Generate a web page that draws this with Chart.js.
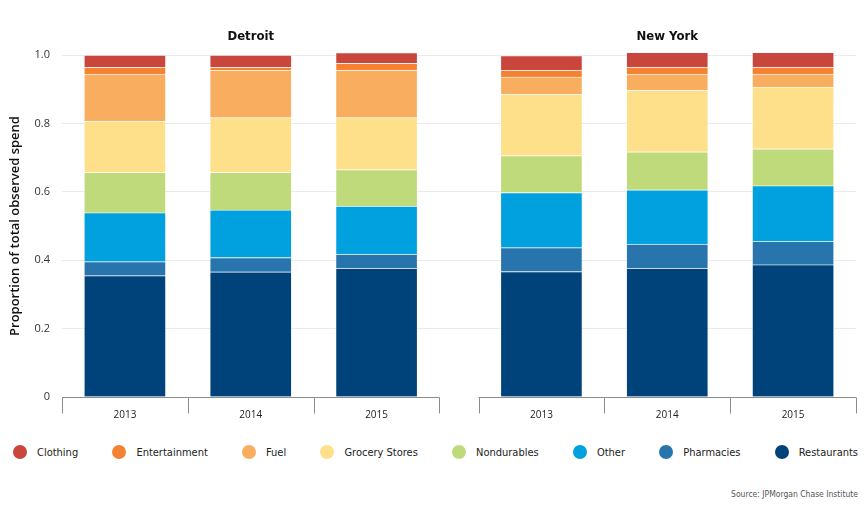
<!DOCTYPE html>
<html>
<head>
<meta charset="utf-8">
<script src="https://cdn.jsdelivr.net/npm/chart.js@4"></script>
<style>
  body { margin: 0; background: #fff; }
  #wrap { position: relative; width: 867px; height: 510px; }
  #chartBox { position: absolute; left: 0; top: 0; width: 867px; height: 425px; }
  #legend {
    position: absolute; left: 13px; right: 9px; top: 445px;
    display: flex; justify-content: space-between;
    font: 11px 'Liberation Sans Narrow', 'DejaVu Sans Condensed', sans-serif; color: #222;
  }
  .item { display: flex; align-items: center; }
  .dot { width: 14px; height: 14px; border-radius: 50%; margin-right: 10px; }
  #source {
    position: absolute; right: 9px; top: 489px;
    font: 8.5px 'Liberation Sans Narrow', 'DejaVu Sans Condensed', sans-serif; color: #555;
  }
</style>
</head>
<body>
<div id="wrap">
  <div id="chartBox"><canvas id="spendChart"></canvas></div>
  <div id="legend"></div>
  <div id="source">Source: JPMorgan Chase Institute</div>
</div>
<script>
// panels and years (Detroit 2013-2015, then New York 2013-2015)
const cities = ["Detroit", "New York"];
const years = ["2013", "2014", "2015"];

// share of spend per category
const restaurants   = [0.355, 0.366, 0.376, 0.367, 0.376, 0.387];
const pharmacies    = [0.041, 0.042, 0.042, 0.070, 0.071, 0.068];
const other         = [0.143, 0.139, 0.140, 0.161, 0.159, 0.163];
const nondurables   = [0.118, 0.110, 0.107, 0.108, 0.111, 0.108];
const grocery       = [0.150, 0.160, 0.152, 0.179, 0.180, 0.180];
const fuel          = [0.137, 0.139, 0.139, 0.051, 0.047, 0.038];
const entertainment = [0.020, 0.008, 0.020, 0.020, 0.021, 0.021];
const clothing      = [0.036, 0.036, 0.031, 0.042, 0.043, 0.043];

const yTicks = [0, 0.2, 0.4, 0.6, 0.8, 1.0];

// bottom of the stack first
const series = [
  { label: "Restaurants",    values: restaurants,   color: "#00427a" },
  { label: "Pharmacies",     values: pharmacies,    color: "#2874ad" },
  { label: "Other",          values: other,         color: "#00a1de" },
  { label: "Nondurables",    values: nondurables,   color: "#bfda7a" },
  { label: "Grocery Stores", values: grocery,       color: "#fee08b" },
  { label: "Fuel",           values: fuel,          color: "#f9ad5e" },
  { label: "Entertainment",  values: entertainment, color: "#f58233" },
  { label: "Clothing",       values: clothing,      color: "#c9463d" }
];

const gap = 0.31; // space between the two panels, in bar slots
const narrow = "'Liberation Sans Narrow', 'DejaVu Sans Condensed', sans-serif";

function xPos(i) {
  const p = Math.floor(i / years.length);
  return p * (years.length + gap) + (i % years.length) + 0.5;
}
const centers = restaurants.map((_, i) => xPos(i));

// little bracket under each panel + panel name on top
const panelPlugin = {
  id: "panels",
  afterDraw(chart) {
    const ctx = chart.ctx;
    const xs = chart.scales.x;
    const bottom = Math.round(chart.chartArea.bottom) + 0.5;
    ctx.save();
    ctx.strokeStyle = "#8c8c8c";
    ctx.lineWidth = 1;
    cities.forEach((city, p) => {
      const start = p * (years.length + gap);
      const l = xs.getPixelForValue(start);
      const r = xs.getPixelForValue(start + years.length);
      ctx.beginPath();
      ctx.moveTo(l, bottom);
      ctx.lineTo(r, bottom);
      for (let k = 0; k <= years.length; k++) {
        const x = Math.round(xs.getPixelForValue(start + k)) + 0.5;
        ctx.moveTo(x, bottom);
        ctx.lineTo(x, bottom + 16);
      }
      ctx.stroke();
      ctx.fillStyle = "#111";
      ctx.font = "bold 13px " + narrow;
      ctx.textAlign = "center";
      ctx.textBaseline = "middle";
      ctx.fillText(city, (l + r) / 2, 37);
    });
    ctx.restore();
  }
};

const chart = new Chart(document.getElementById("spendChart"), {
  type: "bar",
  data: {
    datasets: series.map(s => ({
      label: s.label,
      data: s.values.map((v, i) => ({ x: xPos(i), y: v })),
      backgroundColor: s.color,
      borderColor: "rgba(255,255,255,0.3)",
      borderWidth: 1,
      barThickness: 82,
      clip: false
    }))
  },
  options: {
    responsive: true,
    maintainAspectRatio: false,
    animation: false,
    layout: { padding: { left: 0, right: 11, top: 55, bottom: 0 } },
    plugins: { legend: { display: false }, tooltip: { enabled: false } },
    scales: {
      x: {
        type: "linear",
        stacked: true,
        offset: false,
        min: 0,
        max: cities.length * years.length + gap,
        grid: { display: false },
        border: { display: false },
        afterBuildTicks: axis => { axis.ticks = centers.map(v => ({ value: v })); },
        afterFit: s => { s.height = 28; },
        ticks: {
          autoSkip: false,
          maxRotation: 0,
          padding: 4,
          color: "#222",
          font: { family: "'Open Sans', sans-serif", size: 10 },
          callback: (v, i) => years[i % years.length]
        }
      },
      y: {
        stacked: true,
        min: 0,
        max: 1,
        grid: {
          drawTicks: false,
          color: c => c.tick.value === 0 ? "rgba(0,0,0,0)" : "#ebebeb"
        },
        border: { display: false },
        afterBuildTicks: axis => { axis.ticks = yTicks.map(v => ({ value: v })); },
        afterFit: s => { s.width = 62; },
        ticks: {
          padding: 12,
          color: "#333",
          font: { family: "'Open Sans', sans-serif", size: 11 },
          callback: v => v === 0 ? "0" : v.toFixed(1)
        },
        title: {
          display: true,
          text: "Proportion of total observed spend",
          color: "#111",
          padding: { top: 7, bottom: 0 },
          font: { family: "'Open Sans', sans-serif", size: 13, weight: "600" }
        }
      }
    }
  },
  plugins: [panelPlugin]
});

// legend below, in the picture's order
const legend = document.getElementById("legend");
legend.innerHTML = series.slice().reverse().map(s =>
  `<div class="item"><span class="dot" style="background:${s.color}"></span>${s.label}</div>`
).join('');
</script>
</body>
</html>
